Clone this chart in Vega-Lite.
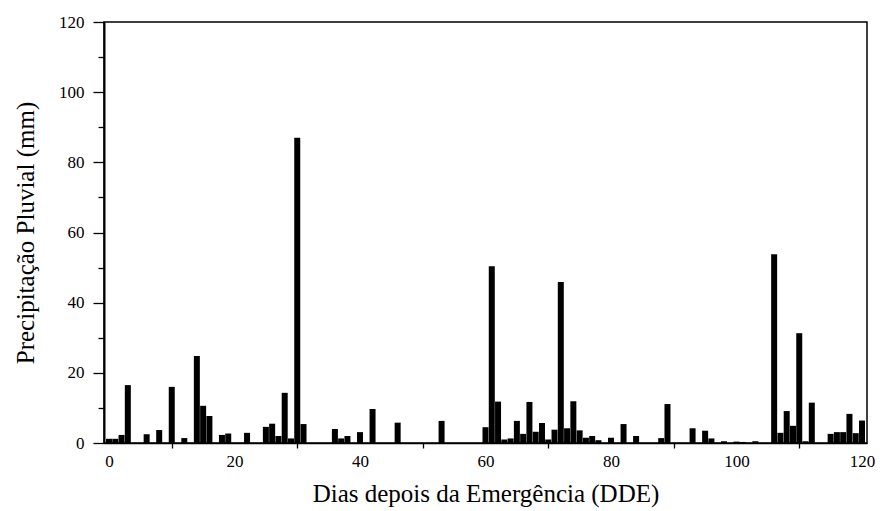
{
  "$schema": "https://vega.github.io/schema/vega-lite/v6.json",
  "autosize": "none",
  "width": 763,
  "height": 421,
  "padding": {"left": 104, "top": 22, "right": 17, "bottom": 68},
  "background": "white",
  "config": {
    "view": {"stroke": "black", "strokeWidth": 1.5},
    "font": "Liberation Serif"
  },
  "data": {
    "values": [
      {"dia": 0, "mm": 1.2}, {"dia": 1, "mm": 1.2}, {"dia": 2, "mm": 2.3}, {"dia": 3, "mm": 16.5},
      {"dia": 6, "mm": 2.5}, {"dia": 8, "mm": 3.7}, {"dia": 10, "mm": 16}, {"dia": 12, "mm": 1.4},
      {"dia": 14, "mm": 24.8}, {"dia": 15, "mm": 10.6}, {"dia": 16, "mm": 7.7}, {"dia": 18, "mm": 2.3},
      {"dia": 19, "mm": 2.7}, {"dia": 22, "mm": 2.9}, {"dia": 25, "mm": 4.6}, {"dia": 26, "mm": 5.5},
      {"dia": 27, "mm": 2}, {"dia": 28, "mm": 14.3}, {"dia": 29, "mm": 1.3}, {"dia": 30, "mm": 87},
      {"dia": 31, "mm": 5.4}, {"dia": 36, "mm": 4}, {"dia": 37, "mm": 1.3}, {"dia": 38, "mm": 2},
      {"dia": 40, "mm": 3.1}, {"dia": 42, "mm": 9.7}, {"dia": 46, "mm": 5.8}, {"dia": 53, "mm": 6.3},
      {"dia": 60, "mm": 4.5}, {"dia": 61, "mm": 50.4}, {"dia": 62, "mm": 11.8}, {"dia": 63, "mm": 1},
      {"dia": 64, "mm": 1.3}, {"dia": 65, "mm": 6.3}, {"dia": 66, "mm": 2.6}, {"dia": 67, "mm": 11.7},
      {"dia": 68, "mm": 3.2}, {"dia": 69, "mm": 5.7}, {"dia": 70, "mm": 1}, {"dia": 71, "mm": 3.8},
      {"dia": 72, "mm": 45.9}, {"dia": 73, "mm": 4.2}, {"dia": 74, "mm": 11.9}, {"dia": 75, "mm": 3.6},
      {"dia": 76, "mm": 1.5}, {"dia": 77, "mm": 2}, {"dia": 78, "mm": 0.8}, {"dia": 80, "mm": 1.5},
      {"dia": 82, "mm": 5.4}, {"dia": 84, "mm": 2}, {"dia": 88, "mm": 1.4}, {"dia": 89, "mm": 11.1},
      {"dia": 93, "mm": 4.2}, {"dia": 95, "mm": 3.5}, {"dia": 96, "mm": 1.3}, {"dia": 98, "mm": 0.5},
      {"dia": 100, "mm": 0.4}, {"dia": 101, "mm": 0.3}, {"dia": 103, "mm": 0.5}, {"dia": 106, "mm": 53.8},
      {"dia": 107, "mm": 2.9}, {"dia": 108, "mm": 9.1}, {"dia": 109, "mm": 4.9}, {"dia": 110, "mm": 31.3},
      {"dia": 111, "mm": 0.5}, {"dia": 112, "mm": 11.5}, {"dia": 115, "mm": 2.6}, {"dia": 116, "mm": 3.1},
      {"dia": 117, "mm": 3.1}, {"dia": 118, "mm": 8.3}, {"dia": 119, "mm": 2.8}, {"dia": 120, "mm": 6.4}
    ]
  },
  "mark": {"type": "bar", "color": "black", "width": 6, "clip": true},
  "encoding": {
    "x": {
      "field": "dia",
      "type": "quantitative",
      "scale": {"domain": [0, 120], "nice": false, "zero": false},
      "axis": {
        "title": "Dias depois da Emergência (DDE)",
        "titleFont": "Liberation Serif",
        "titleFontSize": 25,
        "titleFontWeight": "normal",
        "titlePadding": 12,
        "values": [0, 10, 20, 30, 40, 50, 60, 70, 80, 90, 100, 110, 120],
        "labelExpr": "datum.value % 20 === 0 ? datum.label : ''",
        "labelFont": "Liberation Serif",
        "labelFontSize": 17,
        "labelColor": "black",
        "labelPadding": 5,
        "grid": false,
        "domainColor": "black",
        "domainWidth": 1.5,
        "tickColor": {"condition": {"test": "datum.value % 20 === 0", "value": "transparent"}, "value": "black"},
        "tickSize": 5,
        "tickWidth": 1.3,
        "labelFlush": false
      }
    },
    "y": {
      "field": "mm",
      "type": "quantitative",
      "scale": {"domain": [0, 120], "nice": false},
      "axis": {
        "title": "Precipitação Pluvial (mm)",
        "titleFont": "Liberation Serif",
        "titleFontSize": 25,
        "titleFontWeight": "normal",
        "titlePadding": 20,
        "values": [0, 10, 20, 30, 40, 50, 60, 70, 80, 90, 100, 110, 120],
        "labelExpr": "datum.value % 20 === 0 ? datum.label : ''",
        "labelFont": "Liberation Serif",
        "labelFontSize": 17,
        "labelColor": "black",
        "labelPadding": 9,
        "grid": false,
        "domainColor": "black",
        "domainWidth": 2,
        "tickColor": "black",
        "tickWidth": 1.3,
        "tickSize": {"condition": {"test": "datum.value % 20 === 0", "value": 11}, "value": 6},
        "labelFlush": false
      }
    }
  }
}
